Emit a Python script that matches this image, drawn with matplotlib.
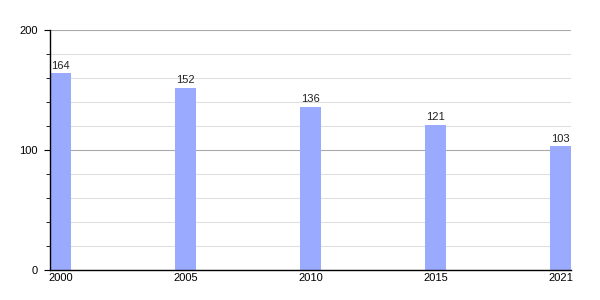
import matplotlib
matplotlib.use("Agg")
import matplotlib.pyplot as plt
from matplotlib.ticker import MultipleLocator

years = ["2000", "2005", "2010", "2015", "2021"]
values = [164, 152, 136, 121, 103]

plt.rcParams['font.family'] = ['Liberation Sans', 'DejaVu Sans']

fig = plt.figure(figsize=(6, 3), dpi=100)
ax = fig.add_axes([50/600, 0.1, 521/600, 0.8])

w = 0.168
pos = list(range(len(years)))
bars = ax.bar(pos, values, width=w, align='edge', color='#99aaff', zorder=2)
for i, v in enumerate(values):
    ax.text(i + w/2, v + 2, str(v), ha='center', va='bottom', fontsize=8, color='#222222')

ax.set_xlim(0, len(years) - 1 + w)
ax.set_ylim(0, 200)
ax.set_xticks([i + w/2 for i in pos])
ax.set_xticklabels(years, fontsize=8)
ax.set_yticks([0, 100, 200])
ax.yaxis.set_minor_locator(MultipleLocator(20))
ax.tick_params(axis='y', which='major', length=4, labelsize=8, pad=5)
ax.tick_params(axis='y', which='minor', length=3)
ax.tick_params(axis='x', length=0, labelsize=8, pad=2)

ax.grid(axis='y', which='major', color='#aaaaaa', linewidth=0.8, zorder=0)
ax.grid(axis='y', which='minor', color='#e0e0e0', linewidth=0.8, zorder=0)
ax.set_axisbelow(True)
for s in ['top', 'right']:
    ax.spines[s].set_visible(False)
ax.spines['left'].set_linewidth(1)
ax.spines['bottom'].set_linewidth(1)

fig.savefig("out.png", dpi=100)
